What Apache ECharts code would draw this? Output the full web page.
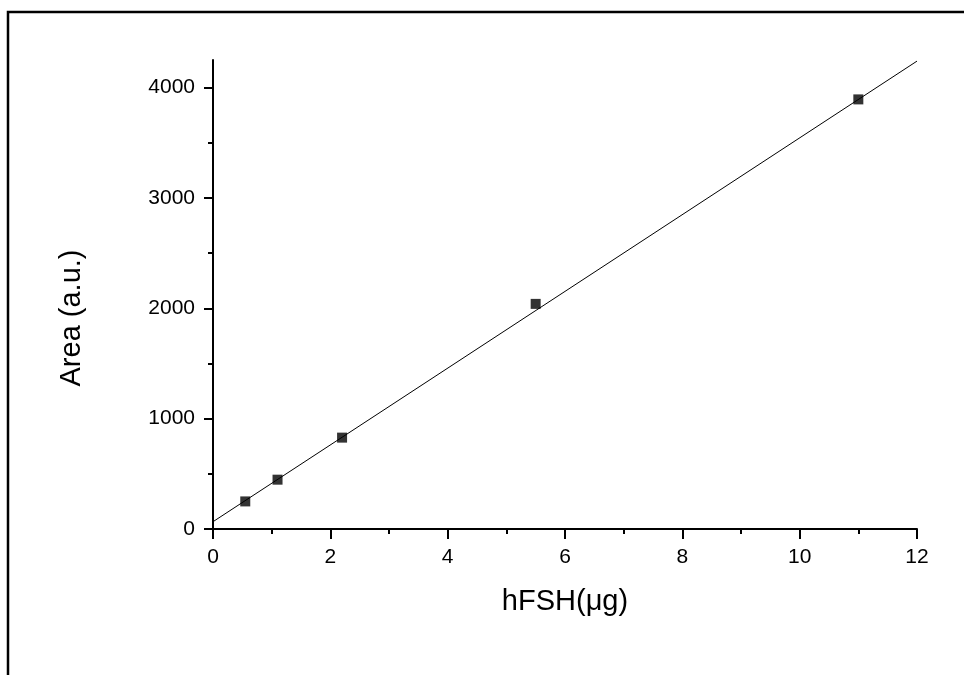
<!DOCTYPE html>
<html>
<head>
<meta charset="utf-8">
<script src="https://cdn.jsdelivr.net/npm/echarts@6/dist/echarts.min.js"></script>
<style>
html,body{margin:0;padding:0;background:#fff;}
#chart{width:964px;height:675px;}
</style>
</head>
<body>
<div id="chart"></div>
<script>
// Data
const xValues = [0.55, 1.1, 2.2, 5.5, 11.0];
const yValues = [250, 447, 828, 2040, 3893];
// Linear fit end points
const fitX = [0, 12];
const fitY = [66, 4240];
// Tick values
const xMajorTicks = [0, 2, 4, 6, 8, 10, 12];
const xMinorTicks = [1, 3, 5, 7, 9, 11];
const yMajorTicks = [0, 1000, 2000, 3000, 4000];
const yMinorTicks = [500, 1500, 2500, 3500];
const xTitle = 'hFSH(μg)';
const yTitle = 'Area (a.u.)';

const font = 'Liberation Sans, Arial, sans-serif';
const chart = echarts.init(document.getElementById('chart'));

const baseAxisLine = {show: true, lineStyle: {color: '#000', width: 2}};
const plain = v => String(v);
const option = {
  animation: false,
  backgroundColor: '#fff',
  grid: {left: 213, right: 47, top: 60, bottom: 146, containLabel: false},
  xAxis: [
    {
      type: 'value', min: 0, max: 12,
      name: xTitle, nameLocation: 'middle', nameGap: 58,
      nameTextStyle: {fontFamily: font, fontSize: 29, color: '#000'},
      axisLine: baseAxisLine,
      axisTick: {show: true, customValues: xMajorTicks, length: 10, lineStyle: {color: '#000', width: 2}},
      axisLabel: {customValues: xMajorTicks, formatter: plain, fontFamily: font, fontSize: 21, color: '#000', margin: 18},
      splitLine: {show: false}
    },
    {
      type: 'value', min: 0, max: 12, position: 'bottom',
      axisLine: {show: false},
      axisTick: {show: true, customValues: xMinorTicks, length: 5, lineStyle: {color: '#000', width: 2}},
      axisLabel: {show: false},
      splitLine: {show: false}
    }
  ],
  yAxis: [
    {
      type: 'value', min: 0, max: 4250,
      axisLine: baseAxisLine,
      axisTick: {show: true, customValues: yMajorTicks, length: 9, lineStyle: {color: '#000', width: 2}},
      axisLabel: {customValues: yMajorTicks, formatter: plain, fontFamily: font, fontSize: 21, color: '#000', margin: 18},
      splitLine: {show: false}
    },
    {
      type: 'value', min: 0, max: 4250, position: 'left',
      axisLine: {show: false},
      axisTick: {show: true, customValues: yMinorTicks, length: 5, lineStyle: {color: '#000', width: 2}},
      axisLabel: {show: false},
      splitLine: {show: false}
    }
  ],
  graphic: [
    {
      type: 'polyline', silent: true,
      shape: {points: [[8, 700], [8, 12], [990, 12]]},
      style: {stroke: '#000', lineWidth: 2.5, fill: null}
    },
    {
      type: 'text', silent: true,
      x: 72, y: 318, rotation: Math.PI / 2,
      style: {text: yTitle, font: '29px ' + font, fill: '#000', align: 'center', verticalAlign: 'middle'}
    }
  ],
  series: [
    {
      type: 'line', xAxisIndex: 0, yAxisIndex: 0,
      data: fitX.map((x, i) => [x, fitY[i]]),
      symbol: 'none',
      lineStyle: {color: '#000', width: 1}
    },
    {
      type: 'scatter', xAxisIndex: 0, yAxisIndex: 0,
      data: xValues.map((x, i) => [x, yValues[i]]),
      symbol: 'rect', symbolSize: 10,
      itemStyle: {color: '#000'}
    }
  ]
};
chart.setOption(option);
</script>
</body>
</html>
